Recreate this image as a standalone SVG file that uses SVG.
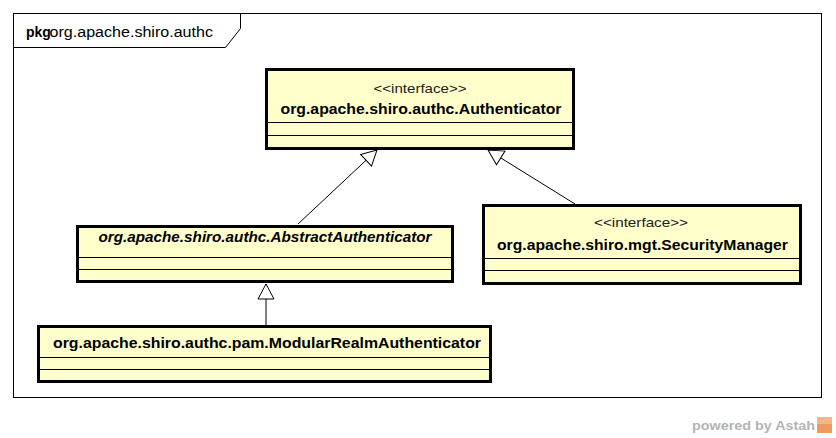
<svg xmlns="http://www.w3.org/2000/svg" width="836" height="438" viewBox="0 0 836 438">
<style>
.box{fill:#ffffcc;stroke:#000;stroke-width:3}
.sep{stroke:#000;stroke-width:1}
.name{font-family:"Liberation Sans",Arial,sans-serif;font-size:14px;font-weight:bold;fill:#000;text-anchor:middle}
.abs{font-style:italic}
.st{font-family:"Liberation Sans",Arial,sans-serif;font-size:13px;fill:#222;text-anchor:middle}
.conn{stroke:#000;stroke-width:1;fill:none}
.frame{fill:none;stroke:#000;stroke-width:1}
.pkg{font-family:"Liberation Sans",Arial,sans-serif;font-size:14px;fill:#000}
</style>
<defs>
<marker id="gen" markerUnits="userSpaceOnUse" markerWidth="20" markerHeight="20" refX="16" refY="9" orient="auto" viewBox="0 0 20 18">
<path d="M16,9 L1,1 L1,17 Z" fill="#fff" stroke="#000" stroke-width="1"/>
</marker>
</defs>
<rect width="836" height="438" fill="#fff"/>
<g id="package">
<rect class="frame" x="13.5" y="13.5" width="808" height="384"/>
<path class="frame" d="M13.5,47.5 H225.5 L240.5,28.5 V13.5"/>
<text class="pkg" x="26" y="37" font-weight="bold" font-size="12.5">pkg</text>
<text class="pkg" x="49.5" y="37" textLength="163.5" lengthAdjust="spacingAndGlyphs">org.apache.shiro.authc</text>
</g>
<g id="connectors">
<line class="conn" x1="298" y1="224" x2="377" y2="150" marker-end="url(#gen)"/>
<line class="conn" x1="575" y1="204" x2="488" y2="150" marker-end="url(#gen)"/>
<line class="conn" x1="266" y1="325" x2="266" y2="284" marker-end="url(#gen)"/>
</g>
<g id="Authenticator">
<rect class="box" x="266.5" y="69.5" width="307" height="79"/>
<text class="st" x="420" y="93" textLength="93" lengthAdjust="spacingAndGlyphs">&lt;&lt;interface&gt;&gt;</text>
<text class="name" x="421" y="114" textLength="281" lengthAdjust="spacingAndGlyphs">org.apache.shiro.authc.Authenticator</text>
<line class="sep" x1="268" y1="122.5" x2="572" y2="122.5"/>
<line class="sep" x1="268" y1="135.5" x2="572" y2="135.5"/>
</g>
<g id="AbstractAuthenticator">
<rect class="box" x="77.5" y="226.5" width="375" height="55"/>
<text class="name abs" x="265" y="242" textLength="333" lengthAdjust="spacingAndGlyphs">org.apache.shiro.authc.AbstractAuthenticator</text>
<line class="sep" x1="79" y1="257.5" x2="451" y2="257.5"/>
<line class="sep" x1="79" y1="269.5" x2="451" y2="269.5"/>
</g>
<g id="SecurityManager">
<rect class="box" x="483.5" y="205.5" width="317" height="78"/>
<text class="st" x="641" y="227" textLength="94" lengthAdjust="spacingAndGlyphs">&lt;&lt;interface&gt;&gt;</text>
<text class="name" x="642.5" y="250" textLength="291" lengthAdjust="spacingAndGlyphs">org.apache.shiro.mgt.SecurityManager</text>
<line class="sep" x1="485" y1="258.5" x2="799" y2="258.5"/>
<line class="sep" x1="485" y1="270.5" x2="799" y2="270.5"/>
</g>
<g id="ModularRealmAuthenticator">
<rect class="box" x="38.5" y="326.5" width="452" height="55"/>
<text class="name" x="267" y="348" textLength="428" lengthAdjust="spacingAndGlyphs">org.apache.shiro.authc.pam.ModularRealmAuthenticator</text>
<line class="sep" x1="40" y1="357.5" x2="489" y2="357.5"/>
<line class="sep" x1="40" y1="369.5" x2="489" y2="369.5"/>
</g>
<g id="watermark">
<text x="692" y="430" font-family="&quot;Liberation Sans&quot;,Arial,sans-serif" font-size="13" font-weight="bold" fill="#b4b4b4" textLength="123" lengthAdjust="spacingAndGlyphs">powered by Astah</text>
<rect x="817" y="417" width="15" height="16" fill="#f5b58a"/>
<rect x="817" y="424" width="15" height="9" fill="#ef9a60"/>
</g>
</svg>
